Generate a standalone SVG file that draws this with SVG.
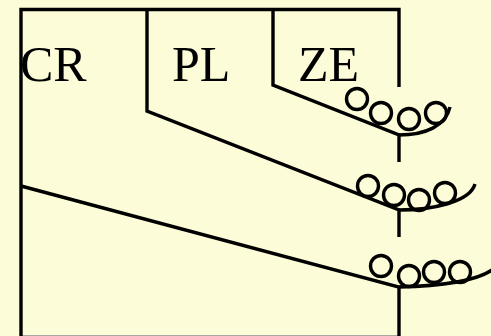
<svg xmlns="http://www.w3.org/2000/svg" width="491" height="336" viewBox="0 0 491 336">
<style>
.ln{fill:none;stroke:#000;stroke-width:3.4;stroke-linecap:butt;stroke-linejoin:miter}
.ball{fill:none;stroke:#000;stroke-width:3.4}
.lbl{font-family:"Liberation Serif","Times New Roman",serif;font-size:50px;fill:#000}
</style>
<rect x="0" y="0" width="491" height="336" fill="#FCFCD8"/>
<line x1="21" y1="335.5" x2="400" y2="335.5" stroke="#A8A8A0" stroke-width="1"/>
<g id="frame">
<path class="ln" d="M21,336 V9.5 H399 V87"/>
</g>
<g id="connectors">
<path class="ln" d="M147,9.5 V111 L399,210 V237"/>
<path class="ln" d="M273,9.5 V85 L399,135 V162"/>
<path class="ln" d="M21,186 L399,287 V336"/>
<path class="ln" d="M399,135 C425,135 446,126 450,107"/>
<path class="ln" d="M399,210 C432,210 470,202 475,184"/>
<path class="ln" d="M399,287 C440,286 476,281 492,270"/>
</g>
<g id="CR"><text class="lbl" x="20" y="81">CR</text></g>
<g id="PL"><text class="lbl" x="172" y="81">PL</text></g>
<g id="ZE"><text class="lbl" x="298" y="81">ZE</text></g>
<g id="balls-ZE">
<circle class="ball" cx="357" cy="99" r="10.5"/>
<circle class="ball" cx="381" cy="113" r="10.5"/>
<circle class="ball" cx="409" cy="119" r="10.5"/>
<circle class="ball" cx="436" cy="113" r="10.5"/>
</g>
<g id="balls-PL">
<circle class="ball" cx="368" cy="186" r="10.5"/>
<circle class="ball" cx="394" cy="195" r="10.5"/>
<circle class="ball" cx="419" cy="200" r="10.5"/>
<circle class="ball" cx="445" cy="193" r="10.5"/>
</g>
<g id="balls-CR">
<circle class="ball" cx="381" cy="266" r="10.5"/>
<circle class="ball" cx="409" cy="276" r="10.5"/>
<circle class="ball" cx="434" cy="272" r="10.5"/>
<circle class="ball" cx="460" cy="272" r="10.5"/>
</g>
</svg>
